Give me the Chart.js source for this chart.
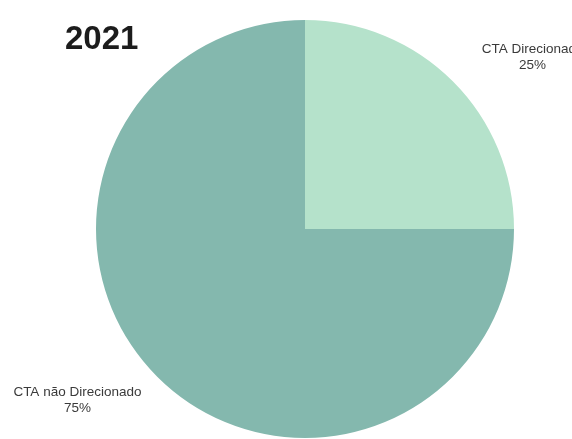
<!DOCTYPE html>
<html>
<head>
<meta charset="utf-8">
<script src="https://cdn.jsdelivr.net/npm/chart.js@4/dist/chart.umd.min.js"></script>
<style>
  html, body { margin: 0; padding: 0; background: #fff; }
  #wrap { width: 572px; height: 439px; }
</style>
</head>
<body>
<div id="wrap"><canvas id="chart" width="572" height="439"></canvas></div>
<script>
const year = "2021";
const categories = ["CTA Direcionado", "CTA não Direcionado"];
const shares = [25, 75];
const colors = ["#b5e2cb", "#84b8ae"];

// slice labels sit outside the pie, pushed along each slice's mid angle
const outsideLabels = {
  id: "outsideLabels",
  afterDraw(chart) {
    const ctx = chart.ctx;
    const meta = chart.getDatasetMeta(0);
    ctx.save();
    ctx.fillStyle = "#3a3a3a";
    ctx.font = "13.5px 'Liberation Sans', Arial, sans-serif";
    ctx.textAlign = "center";
    ctx.textBaseline = "middle";
    meta.data.forEach((arc, i) => {
      const mid = (arc.startAngle + arc.endAngle) / 2;
      const x = arc.x + Math.cos(mid) * arc.outerRadius * 1.54;
      const y = arc.y + Math.sin(mid) * arc.outerRadius * 1.16;
      ctx.fillText(chart.data.labels[i], x, y - 8);
      ctx.fillText(chart.data.datasets[0].data[i] + "%", x, y + 8);
    });

    ctx.fillStyle = "#1c1c1c";
    ctx.font = "bold 33px 'Liberation Sans', Arial, sans-serif";
    ctx.textAlign = "left";
    ctx.textBaseline = "alphabetic";
    ctx.fillText(year, 65, 49);
    ctx.restore();
  }
};

new Chart(document.getElementById("chart").getContext("2d"), {
  type: "pie",
  data: {
    labels: categories,
    datasets: [{
      data: shares,
      backgroundColor: colors,
      borderWidth: 0
    }]
  },
  options: {
    responsive: false,
    animation: false,
    layout: { padding: { left: 96, right: 58, top: 20, bottom: 1 } },
    plugins: {
      legend: { display: false },
      tooltip: { enabled: false }
    }
  },
  plugins: [outsideLabels]
});
</script>
</body>
</html>
